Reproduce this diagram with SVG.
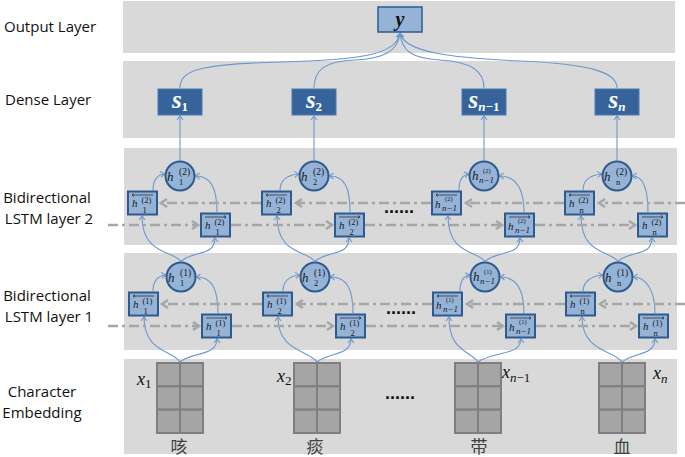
<svg xmlns="http://www.w3.org/2000/svg" width="685" height="457" viewBox="0 0 685 457">
<defs>
<style>
.panel{fill:#d9d9d9}
.lbl{font-family:"Open Sans","Liberation Sans",sans-serif;font-size:15px;fill:#111}
.cell{fill:#a5a5a5;stroke:#7f7f7f;stroke-width:2}
.hb{fill:#95b3d7;stroke:#2e5a8e;stroke-width:2}
.dn{fill:#36649a;stroke:#4a7ab3;stroke-width:1}
.out{fill:#95b3d7;stroke:#2e5a8e;stroke-width:1.5}
.c{fill:none;stroke:#6b98cf;stroke-width:1.1;marker-end:url(#ba)}
.d{fill:none;stroke:#a6a6a6;stroke-width:2.5;stroke-dasharray:10 4 3 4;marker-end:url(#ga)}
.m{font-family:"Liberation Serif","DejaVu Serif",serif;font-style:italic;fill:#1a1a1a}
.h{font-size:11px}
.hc{font-size:13px}
.sp{font-size:8.5px;font-style:normal}
.spc{font-size:9.5px;font-style:normal}
.sps{font-size:6.5px;font-style:normal}
.sb{font-size:8.5px;font-style:normal}
.sbn{font-size:9px}
.ov{fill:none;stroke:#222;stroke-width:0.7}
.dots{font-family:"Liberation Sans",sans-serif;font-weight:bold;font-size:18px;fill:#111}
.cjk{font-family:"Noto Sans CJK SC",sans-serif;font-size:17px;fill:#404040}
.sd{font-family:"Liberation Serif",serif;font-style:italic;font-weight:bold;fill:#fff;font-size:25px}
.sdb{font-size:13px;font-style:normal}
.sdn{font-size:13px}
.mx{font-family:"Liberation Serif",serif;font-style:italic;font-size:18px;fill:#111}
.xs{font-size:13px;font-style:normal}
.xn{font-size:13px}
</style>
<marker id="ga" markerUnits="userSpaceOnUse" markerWidth="12" markerHeight="12" refX="6" refY="4" orient="auto" overflow="visible"><path d="M0,0 L6,4 L0,8" fill="none" stroke="#a6a6a6" stroke-width="2.5"/></marker>
<marker id="ba" markerUnits="userSpaceOnUse" markerWidth="8" markerHeight="8" refX="4" refY="3" orient="auto" overflow="visible"><path d="M0,0 L4,3 L0,6" fill="none" stroke="#6b98cf" stroke-width="1.1"/></marker>
</defs>
<rect width="685" height="457" fill="#fff"/>
<g id="panels">
<rect class="panel" x="123" y="1" width="552" height="52"/>
<rect class="panel" x="123" y="61" width="552" height="77"/>
<rect class="panel" x="124" y="148" width="553" height="97"/>
<rect class="panel" x="124" y="253" width="553" height="97"/>
<rect class="panel" x="124" y="359" width="553" height="95"/>
</g>
<g id="layer-labels">
<text class="lbl" x="4" y="32">Output Layer</text>
<text class="lbl" x="5" y="105">Dense Layer</text>
<text class="lbl" x="47" y="203" text-anchor="middle">Bidirectional</text>
<text class="lbl" x="49" y="224" text-anchor="middle">LSTM layer 2</text>
<text class="lbl" x="47" y="301" text-anchor="middle">Bidirectional</text>
<text class="lbl" x="49" y="322" text-anchor="middle">LSTM layer 1</text>
<text class="lbl" x="42" y="397" text-anchor="middle">Character</text>
<text class="lbl" x="42" y="418" text-anchor="middle">Embedding</text>
</g>
<g id="connectors">
<path class="c" d="M180,88 C180,70 200,64 280,62 C360,60 396,55 400,33.5"/>
<path class="c" d="M314,88 C314,70 325,61 355,60 C385,59 398,50 400,33.5"/>
<path class="c" d="M484,88 C484,70 470,62 440,60 C410,58 402,50 400,33.5"/>
<path class="c" d="M617,88 C617,72 590,64 520,61 C450,58 405,52 400,33.5"/>
<path class="c" d="M180,160.5 V116"/>
<path class="c" d="M314,160.5 V116"/>
<path class="c" d="M484,160.5 V116"/>
<path class="c" d="M617,160.5 V116"/>
<path class="c" d="M153,190.5 C153,181 156,175 164.5,174"/>
<path class="c" d="M280,190.5 C280,180 288,175 298.5,174"/>
<path class="c" d="M459,190.5 C459,181 462,175 468.5,174"/>
<path class="c" d="M583,190.5 C583,180 591,175 601.5,174"/>
<path class="c" d="M217,212.5 C217,188 211,176 195.5,176"/>
<path class="c" d="M350,212.5 C350,188 345,176 329.5,176"/>
<path class="c" d="M524,212.5 C524,188 515,176 499.5,176"/>
<path class="c" d="M648,212.5 C648,188 643,176 632.5,176"/>
<path class="c" d="M153,291.5 C153,282 157,276 165.5,275"/>
<path class="c" d="M283,291.5 C283,281 290,276 299.5,275"/>
<path class="c" d="M460,291.5 C460,282 463,276 469.5,275"/>
<path class="c" d="M583,291.5 C583,281 592,276 602.5,275"/>
<path class="c" d="M218,313.5 C218,289 212,277 196.5,277"/>
<path class="c" d="M353,313.5 C353,289 347,277 330.5,277"/>
<path class="c" d="M524,313.5 C524,289 516,277 500.5,277"/>
<path class="c" d="M655,313.5 C655,289 645,277 633.5,277"/>
<path class="c" d="M181,261.5 C173,250 142,255 142,216"/>
<path class="c" d="M181,261.5 C193,250 215,257 215,238"/>
<path class="c" d="M315,261.5 C307,250 277,255 277,216"/>
<path class="c" d="M315,261.5 C327,250 349,257 349,238"/>
<path class="c" d="M485,261.5 C477,250 448,255 448,216"/>
<path class="c" d="M485,261.5 C497,250 520,257 520,238"/>
<path class="c" d="M618,261.5 C610,250 581,255 581,216"/>
<path class="c" d="M618,261.5 C630,250 652,257 652,238"/>
<path class="c" d="M180,362 C172,350 144,352 144,317"/>
<path class="c" d="M180,362 C192,352 217,356 217,339"/>
<path class="c" d="M317,362 C309,350 278,352 278,317"/>
<path class="c" d="M317,362 C329,352 351,356 351,339"/>
<path class="c" d="M478,362 C470,350 449,352 449,317"/>
<path class="c" d="M478,362 C490,352 521,356 521,339"/>
<path class="c" d="M622,362 C614,350 582,352 582,317"/>
<path class="c" d="M622,362 C634,352 655,356 655,339"/>
<path class="d" d="M685,203 H599"/>
<path class="d" d="M564,203 H466"/>
<path class="d" d="M431,203 H296"/>
<path class="d" d="M261,203 H161"/>
<path class="d" d="M108,225 H198"/>
<path class="d" d="M231,225 H332"/>
<path class="d" d="M365,225 H502"/>
<path class="d" d="M535,225 H635"/>
<path class="d" d="M685,304 H600"/>
<path class="d" d="M565,304 H467"/>
<path class="d" d="M432,304 H297"/>
<path class="d" d="M262,304 H162"/>
<path class="d" d="M108,326 H199"/>
<path class="d" d="M232,326 H333"/>
<path class="d" d="M366,326 H503"/>
<path class="d" d="M536,326 H636"/>
</g>
<g id="out-y">
<rect class="out" x="378" y="7" width="44" height="25"/>
<text x="400" y="26" text-anchor="middle" font-family="Liberation Serif,serif" font-style="italic" font-weight="bold" font-size="20" fill="#111">y</text>
</g>
<g id="dense-s1"><rect class="dn" x="158" y="89" width="44" height="26"/><text class="sd" x="180" y="108" text-anchor="middle">s<tspan class="sdb" dy="3">1</tspan></text></g>
<g id="dense-s2"><rect class="dn" x="292" y="89" width="44" height="26"/><text class="sd" x="314" y="108" text-anchor="middle">s<tspan class="sdb" dy="3">2</tspan></text></g>
<g id="dense-sn1"><rect class="dn" x="462" y="89" width="44" height="26"/><text class="sd" x="484" y="108" text-anchor="middle">s<tspan class="sdn" dy="3">n</tspan><tspan class="sdb">−1</tspan></text></g>
<g id="dense-sn"><rect class="dn" x="595" y="89" width="44" height="26"/><text class="sd" x="617" y="108" text-anchor="middle">s<tspan class="sdn" dy="3">n</tspan></text></g>

<g id="l2-c1"><circle class="hb" cx="180" cy="176" r="14.5"/><text class="m hc" x="167" y="181">h</text><text class="m spc" x="179" y="175">(2)</text><text class="m sb" x="179" y="185">1</text></g>
<g id="l2-c2"><circle class="hb" cx="314" cy="176" r="14.5"/><text class="m hc" x="301" y="181">h</text><text class="m spc" x="313" y="175">(2)</text><text class="m sb" x="313" y="185">2</text></g>
<g id="l2-c3"><circle class="hb" cx="484" cy="176" r="14.5"/><text class="m hc" x="472" y="180">h</text><text class="m sps" x="483" y="173" font-size="7.5">(2)</text><text class="m sbn" x="479" y="183">n−1</text></g>
<g id="l2-c4"><circle class="hb" cx="617" cy="176" r="14.5"/><text class="m hc" x="604" y="181">h</text><text class="m spc" x="616" y="175">(2)</text><text class="m sb" x="616" y="185">n</text></g>

<g id="l2-b1"><rect class="hb" x="128" y="191.5" width="29" height="23"/><path class="ov" d="M153,195 H132 M134,193.5 L132,195 L134,196.5"/><text class="m h" x="132" y="207">h</text><text class="m sp" x="141.5" y="202.5">(2)</text><text class="m sb" x="142.5" y="212.5">1</text></g>
<g id="l2-b2"><rect class="hb" x="262" y="191.5" width="29" height="23"/><path class="ov" d="M287,195 H266 M268,193.5 L266,195 L268,196.5"/><text class="m h" x="266" y="207">h</text><text class="m sp" x="275.5" y="202.5">(2)</text><text class="m sb" x="276.5" y="212.5">2</text></g>
<g id="l2-b3"><rect class="hb" x="432" y="191.5" width="29" height="23"/><path class="ov" d="M457,195 H436 M438,193.5 L436,195 L438,196.5"/><text class="m h" x="435" y="207.5">h</text><text class="m sps" x="445" y="201">(2)</text><text class="m sbn" x="442" y="211">n−1</text></g>
<g id="l2-b4"><rect class="hb" x="565" y="191.5" width="29" height="23"/><path class="ov" d="M590,195 H569 M571,193.5 L569,195 L571,196.5"/><text class="m h" x="569" y="207">h</text><text class="m sp" x="578.5" y="202.5">(2)</text><text class="m sb" x="579.5" y="212.5">n</text></g>

<g id="l2-f1"><rect class="hb" x="201" y="213.5" width="29" height="23"/><path class="ov" d="M205,217 H226 M224,215.5 L226,217 L224,218.5"/><text class="m h" x="205" y="229">h</text><text class="m sp" x="214.5" y="224.5">(2)</text><text class="m sb" x="215.5" y="234.5">1</text></g>
<g id="l2-f2"><rect class="hb" x="335" y="213.5" width="29" height="23"/><path class="ov" d="M339,217 H360 M358,215.5 L360,217 L358,218.5"/><text class="m h" x="339" y="229">h</text><text class="m sp" x="348.5" y="224.5">(2)</text><text class="m sb" x="349.5" y="234.5">2</text></g>
<g id="l2-f3"><rect class="hb" x="505" y="213.5" width="29" height="23"/><path class="ov" d="M509,217 H530 M528,215.5 L530,217 L528,218.5"/><text class="m h" x="508" y="229.5">h</text><text class="m sps" x="518" y="223">(2)</text><text class="m sbn" x="515" y="233">n−1</text></g>
<g id="l2-f4"><rect class="hb" x="638" y="213.5" width="29" height="23"/><path class="ov" d="M642,217 H663 M661,215.5 L663,217 L661,218.5"/><text class="m h" x="642" y="229">h</text><text class="m sp" x="651.5" y="224.5">(2)</text><text class="m sb" x="652.5" y="234.5">n</text></g>

<g id="l1-c1"><circle class="hb" cx="181" cy="277" r="14.5"/><text class="m hc" x="168" y="282">h</text><text class="m spc" x="180" y="276">(1)</text><text class="m sb" x="180" y="286">1</text></g>
<g id="l1-c2"><circle class="hb" cx="315" cy="277" r="14.5"/><text class="m hc" x="302" y="282">h</text><text class="m spc" x="314" y="276">(1)</text><text class="m sb" x="314" y="286">2</text></g>
<g id="l1-c3"><circle class="hb" cx="485" cy="277" r="14.5"/><text class="m hc" x="473" y="281">h</text><text class="m sps" x="484" y="274" font-size="7.5">(1)</text><text class="m sbn" x="480" y="284">n−1</text></g>
<g id="l1-c4"><circle class="hb" cx="618" cy="277" r="14.5"/><text class="m hc" x="605" y="282">h</text><text class="m spc" x="617" y="276">(1)</text><text class="m sb" x="617" y="286">n</text></g>

<g id="l1-b1"><rect class="hb" x="129" y="292.5" width="29" height="23"/><path class="ov" d="M154,296 H133 M135,294.5 L133,296 L135,297.5"/><text class="m h" x="133" y="308">h</text><text class="m sp" x="142.5" y="303.5">(1)</text><text class="m sb" x="143.5" y="313.5">1</text></g>
<g id="l1-b2"><rect class="hb" x="263" y="292.5" width="29" height="23"/><path class="ov" d="M288,296 H267 M269,294.5 L267,296 L269,297.5"/><text class="m h" x="267" y="308">h</text><text class="m sp" x="276.5" y="303.5">(1)</text><text class="m sb" x="277.5" y="313.5">2</text></g>
<g id="l1-b3"><rect class="hb" x="433" y="292.5" width="29" height="23"/><path class="ov" d="M458,296 H437 M439,294.5 L437,296 L439,297.5"/><text class="m h" x="436" y="308.5">h</text><text class="m sps" x="446" y="302">(1)</text><text class="m sbn" x="443" y="312">n−1</text></g>
<g id="l1-b4"><rect class="hb" x="566" y="292.5" width="29" height="23"/><path class="ov" d="M591,296 H570 M572,294.5 L570,296 L572,297.5"/><text class="m h" x="570" y="308">h</text><text class="m sp" x="579.5" y="303.5">(1)</text><text class="m sb" x="580.5" y="313.5">n</text></g>

<g id="l1-f1"><rect class="hb" x="202" y="314.5" width="29" height="23"/><path class="ov" d="M206,318 H227 M225,316.5 L227,318 L225,319.5"/><text class="m h" x="206" y="330">h</text><text class="m sp" x="215.5" y="325.5">(1)</text><text class="m sb" x="216.5" y="335.5">1</text></g>
<g id="l1-f2"><rect class="hb" x="336" y="314.5" width="29" height="23"/><path class="ov" d="M340,318 H361 M359,316.5 L361,318 L359,319.5"/><text class="m h" x="340" y="330">h</text><text class="m sp" x="349.5" y="325.5">(1)</text><text class="m sb" x="350.5" y="335.5">2</text></g>
<g id="l1-f3"><rect class="hb" x="506" y="314.5" width="29" height="23"/><path class="ov" d="M510,318 H531 M529,316.5 L531,318 L529,319.5"/><text class="m h" x="509" y="330.5">h</text><text class="m sps" x="519" y="324">(1)</text><text class="m sbn" x="516" y="334">n−1</text></g>
<g id="l1-f4"><rect class="hb" x="639" y="314.5" width="29" height="23"/><path class="ov" d="M643,318 H664 M662,316.5 L664,318 L662,319.5"/><text class="m h" x="643" y="330">h</text><text class="m sp" x="652.5" y="325.5">(1)</text><text class="m sb" x="653.5" y="335.5">n</text></g>

<g id="ellipses">
<text class="dots" x="384" y="213">......</text>
<text class="dots" x="386" y="314">......</text>
<text class="dots" x="385" y="399">......</text>
</g>

<g id="emb-1">
<rect class="cell" x="157" y="363" width="23" height="23.33"/><rect class="cell" x="180" y="363" width="23" height="23.33"/>
<rect class="cell" x="157" y="386.33" width="23" height="23.33"/><rect class="cell" x="180" y="386.33" width="23" height="23.33"/>
<rect class="cell" x="157" y="409.67" width="23" height="23.33"/><rect class="cell" x="180" y="409.67" width="23" height="23.33"/>
<text class="mx" x="137" y="385">x<tspan class="xs" dy="3">1</tspan></text>
<text class="cjk" x="179" y="453" text-anchor="middle">咳</text>
</g>
<g id="emb-2">
<rect class="cell" x="294" y="363" width="23" height="23.33"/><rect class="cell" x="317" y="363" width="23" height="23.33"/>
<rect class="cell" x="294" y="386.33" width="23" height="23.33"/><rect class="cell" x="317" y="386.33" width="23" height="23.33"/>
<rect class="cell" x="294" y="409.67" width="23" height="23.33"/><rect class="cell" x="317" y="409.67" width="23" height="23.33"/>
<text class="mx" x="277" y="382">x<tspan class="xs" dy="3">2</tspan></text>
<text class="cjk" x="315" y="453" text-anchor="middle">痰</text>
</g>
<g id="emb-n1">
<rect class="cell" x="455" y="363" width="23" height="23.33"/><rect class="cell" x="478" y="363" width="23" height="23.33"/>
<rect class="cell" x="455" y="386.33" width="23" height="23.33"/><rect class="cell" x="478" y="386.33" width="23" height="23.33"/>
<rect class="cell" x="455" y="409.67" width="23" height="23.33"/><rect class="cell" x="478" y="409.67" width="23" height="23.33"/>
<text class="mx" x="502" y="378">x<tspan class="xn" dy="4">n</tspan><tspan class="xs">−1</tspan></text>
<text class="cjk" x="479" y="453" text-anchor="middle">带</text>
</g>
<g id="emb-n">
<rect class="cell" x="599" y="363" width="23" height="23.33"/><rect class="cell" x="622" y="363" width="23" height="23.33"/>
<rect class="cell" x="599" y="386.33" width="23" height="23.33"/><rect class="cell" x="622" y="386.33" width="23" height="23.33"/>
<rect class="cell" x="599" y="409.67" width="23" height="23.33"/><rect class="cell" x="622" y="409.67" width="23" height="23.33"/>
<text class="mx" x="653" y="379">x<tspan class="xn" dy="4">n</tspan></text>
<text class="cjk" x="622" y="453" text-anchor="middle">血</text>
</g>
</svg>
